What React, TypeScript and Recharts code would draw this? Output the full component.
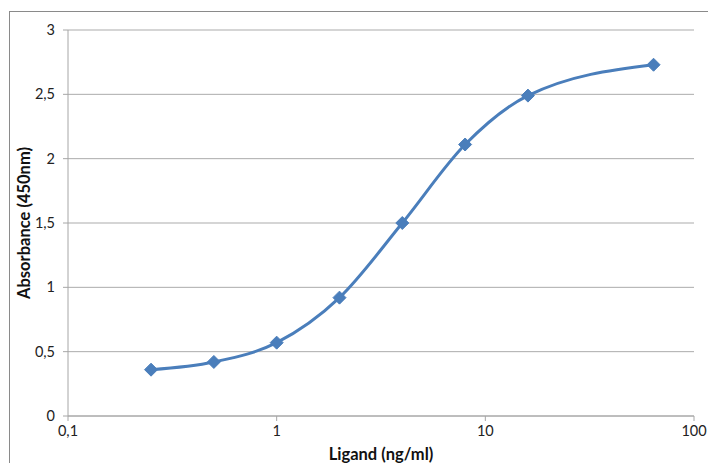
import React from 'react';
import { LineChart, Line, XAxis, YAxis, CartesianGrid, Label } from 'recharts';

const concentrations = [0.25, 0.5, 1, 2, 4, 8, 16, 64];
const absorbance = [0.36, 0.42, 0.57, 0.92, 1.5, 2.11, 2.49, 2.73];
const xTicks = [0.1, 1, 10, 100];
const yTicks = [0, 0.5, 1, 1.5, 2, 2.5, 3];

const data = concentrations.map((c, i) => ({ x: c, y: absorbance[i] }));

const fmt = (v: number) => String(v).replace('.', ',');

const Diamond = (props: any) => {
  const { cx, cy } = props;
  if (cx == null || cy == null) return null;
  const r = 6.5;
  return (
    <polygon
      points={`${cx},${cy - r} ${cx + r},${cy} ${cx},${cy + r} ${cx - r},${cy}`}
      fill="#4A7EBB"
      stroke="#4A7EBB"
      strokeWidth={1}
    />
  );
};

const FONT = 'Lato, "Open Sans", sans-serif';

export default function App() {
  return (
    <div style={{ position: 'relative', marginLeft: -8, marginTop: -8, width: 716, height: 463, overflow: 'hidden', background: '#fff' }}>
      <div
        style={{
          position: 'absolute',
          left: 9,
          top: 11,
          width: 740,
          height: 480,
          border: '1px solid #8a8a8a',
          boxSizing: 'border-box',
        }}
      />
      <div style={{ position: 'absolute', left: 0, top: 0 }}>
        <LineChart
          width={716}
          height={463}
          data={data}
          margin={{ top: 30, right: 22, bottom: 17, left: 8 }}
          style={{ fontFamily: FONT }}
        >
          <CartesianGrid vertical={false} stroke="#ababab" strokeWidth={1} />
          <XAxis
            dataKey="x"
            type="number"
            scale="log"
            domain={[0.1, 100]}
            ticks={xTicks}
            allowDataOverflow
            tickFormatter={fmt}
            stroke="#a6a6a6"
            tickSize={5}
            height={30}
            tick={{ fill: '#222', fontSize: 14.5, fontFamily: FONT }}
            tickMargin={5}
          >
            <Label
              value="Ligand (ng/ml)"
              position="insideBottom"
              offset={-14}
              style={{ fontWeight: 700, fontSize: 16.5, fill: '#111', fontFamily: FONT }}
            />
          </XAxis>
          <YAxis
            type="number"
            domain={[0, 3]}
            ticks={yTicks}
            tickFormatter={fmt}
            stroke="#a6a6a6"
            tickSize={5}
            width={60}
            tick={{ fill: '#222', fontSize: 14.5, fontFamily: FONT }}
            tickMargin={8}
          >
            <Label
              value="Absorbance (450nm)"
              angle={-90}
              position="insideLeft"
              offset={16}
              style={{ fontWeight: 700, fontSize: 16.5, fill: '#111', fontFamily: FONT, textAnchor: 'middle' }}
            />
          </YAxis>
          <Line
            type="monotone"
            dataKey="y"
            stroke="#4A7EBB"
            strokeWidth={3}
            dot={<Diamond />}
            activeDot={false}
            isAnimationActive={false}
          />
        </LineChart>
      </div>
    </div>
  );
}
